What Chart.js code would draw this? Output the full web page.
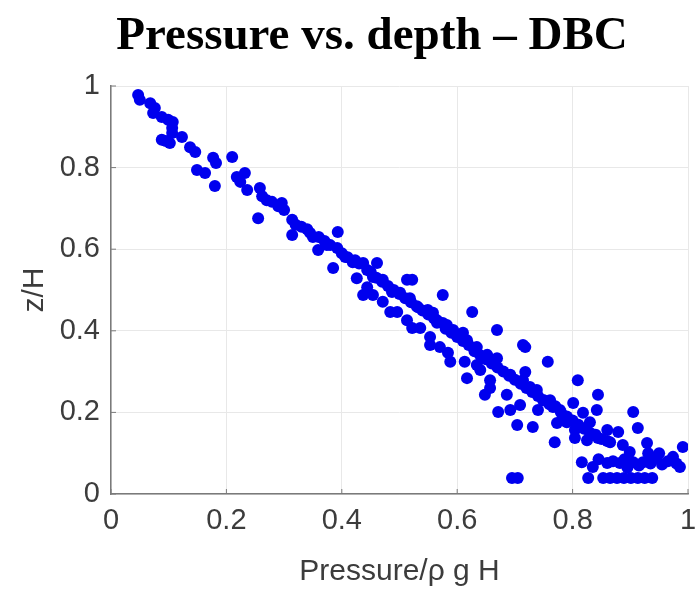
<!DOCTYPE html>
<html><head><meta charset="utf-8">
<script src="https://cdn.jsdelivr.net/npm/chart.js@4/dist/chart.umd.min.js"></script>
<style>
html,body{margin:0;padding:0;background:#fff;overflow:hidden;}
#wrap{position:relative;width:697px;height:596px;}
#title{position:absolute;left:47px;top:7px;width:650px;text-align:center;font:bold 47px/52px 'Liberation Serif','Times New Roman',serif;color:#000;white-space:nowrap;}
canvas{position:absolute;left:0;top:0;}
</style></head><body>
<div id="wrap"><canvas id="c" width="697" height="596"></canvas><div id="title">Pressure vs. depth – DBC</div></div>
<script>
// Pressure / (rho g H)
const pressure = [
0.047,0.050,0.068,0.073,0.076,0.088,0.099,0.107,0.106,0.106,0.088,0.102,0.095,0.123,0.137,0.146,0.177,0.182,0.210,0.149,0.163,0.180,0.218,0.232,0.224,0.236,0.258,0.262,0.255,0.279,0.296,0.300,0.314,0.314,0.340,0.350,0.393,0.359,0.374,0.392,0.406,0.385,0.423,0.426,0.444,0.454,
0.270,0.290,0.320,0.330,0.345,
0.419,0.437,0.461,0.471,0.444,0.437,0.454,0.471,0.484,0.496,0.487,0.501,0.513,0.522,0.518,0.532,0.549,0.513,0.522,0.536,0.575,0.565,0.582,0.593,0.553,0.553,0.570,0.584,0.626,0.617,0.634,0.613,0.634,
0.558,0.575,0.669,0.610,0.652,0.669,0.588,0.640,0.617,0.657,0.657,0.648,0.686,0.692,0.718,0.718,0.714,0.726,0.738,0.757,0.749,0.766,0.709,0.692,0.671,0.740,0.704,0.731,0.782,0.714,
0.809,0.844,0.761,0.778,0.801,0.818,0.842,0.905,0.773,0.790,0.804,0.830,0.844,0.860,0.879,0.913,0.769,0.804,0.825,0.865,0.887,0.899,0.929,0.931,0.816,0.835,0.860,0.882,0.905,0.922,0.946,0.974,0.986,0.991,
0.827,0.853,0.865,0.877,0.889,0.901,0.913,0.925,0.938,0.695,0.705,
0.845,0.870,0.890,0.915,0.935,0.955,0.965,0.980,0.895,0.950,
0.360,0.370,0.380,0.400,0.410,0.430,0.450,0.460,0.470,0.480,0.490,0.500,0.510,0.520,0.530,0.540,0.550,0.560,0.565,0.580,0.590,0.600,0.610,0.620,0.630,0.640,0.650,0.660,0.670,0.680,0.690,0.700,0.710,0.720,0.730,0.740,0.750,0.760,0.770,0.780,0.790,0.800,0.810,0.820,0.830,0.840,0.850,0.860
];
// z / H
const depth = [
0.978,0.966,0.958,0.934,0.946,0.924,0.917,0.912,0.897,0.885,0.868,0.860,0.865,0.875,0.850,0.838,0.824,0.811,0.826,0.794,0.787,0.755,0.777,0.787,0.765,0.745,0.750,0.730,0.676,0.716,0.713,0.696,0.672,0.635,0.649,0.630,0.642,0.598,0.610,0.603,0.581,0.554,0.573,0.529,0.549,0.532,
0.720,0.705,0.660,0.655,0.640,
0.568,0.566,0.566,0.525,0.507,0.488,0.488,0.471,0.446,0.446,0.495,0.493,0.525,0.525,0.480,0.458,0.451,0.426,0.407,0.407,0.488,0.426,0.414,0.402,0.385,0.365,0.360,0.346,0.446,0.377,0.360,0.324,0.316,
0.444,0.419,0.402,0.395,0.341,0.333,0.324,0.304,0.284,0.279,0.260,0.243,0.243,0.292,0.360,0.299,0.279,0.262,0.255,0.324,0.230,0.213,0.218,0.206,0.201,0.206,0.169,0.164,0.181,0.365,
0.279,0.243,0.230,0.206,0.223,0.199,0.206,0.201,0.174,0.176,0.157,0.176,0.137,0.157,0.152,0.162,0.127,0.137,0.132,0.127,0.120,0.103,0.125,0.100,0.078,0.066,0.076,0.076,0.078,0.078,0.088,0.091,0.066,0.115,
0.039,0.039,0.039,0.039,0.039,0.039,0.039,0.039,0.039,0.039,0.039,
0.085,0.080,0.085,0.070,0.075,0.072,0.080,0.075,0.065,0.100,
0.630,0.620,0.610,0.590,0.580,0.565,0.545,0.530,0.520,0.510,0.500,0.490,0.480,0.470,0.460,0.450,0.440,0.430,0.420,0.405,0.395,0.385,0.375,0.365,0.350,0.340,0.330,0.320,0.310,0.300,0.290,0.280,0.270,0.260,0.250,0.240,0.230,0.220,0.215,0.200,0.190,0.180,0.170,0.160,0.150,0.145,0.135,0.130
];
const tickValues = [0, 0.2, 0.4, 0.6, 0.8, 1];
const tickLabels = ['0', '0.2', '0.4', '0.6', '0.8', '1'];

const points = pressure.map((p, i) => ({x: p, y: depth[i]}));

const axisColor = '#7a7a7a';
const textColor = '#3c3c3c';
const fmt = v => { const i = tickValues.findIndex(t => Math.abs(t - v) < 1e-9); return i >= 0 ? tickLabels[i] : ''; };

const innerTicks = {
  id: 'innerTicks',
  beforeDatasetsDraw(chart) {
    const ctx = chart.ctx, xs = chart.scales.x, ys = chart.scales.y;
    ctx.save();
    ctx.strokeStyle = axisColor;
    ctx.lineWidth = 1;
    tickValues.forEach(v => {
      const px = xs.getPixelForValue(v);
      ctx.beginPath(); ctx.moveTo(px, ys.bottom); ctx.lineTo(px, ys.bottom - 5); ctx.stroke();
      const py = ys.getPixelForValue(v);
      ctx.beginPath(); ctx.moveTo(xs.left, py); ctx.lineTo(xs.left + 5, py); ctx.stroke();
    });
    ctx.restore();
  }
};

new Chart(document.getElementById('c'), {
  type: 'scatter',
  data: {
    datasets: [{
      data: points,
      backgroundColor: '#0000ee',
      borderColor: '#0000ee',
      borderWidth: 0,
      pointRadius: 6,
      pointHoverRadius: 6
    }]
  },
  options: {
    responsive: false,
    animation: false,
    devicePixelRatio: 1,
    layout: { padding: { top: 86, right: 0, left: 0, bottom: 0 } },
    plugins: { legend: { display: false }, title: { display: false }, tooltip: { enabled: false } },
    scales: {
      x: {
        type: 'linear', min: 0, max: 1,
        afterBuildTicks: s => { s.ticks = tickValues.map(v => ({value: v})); },
        afterFit: s => { s.height = 102; s.paddingRight = 9; },
        ticks: { color: textColor, padding: 10, maxRotation: 0, callback: fmt, font: { family: "'Liberation Sans', Arial, sans-serif", size: 29 } },
        grid: { color: '#e8e8e8', drawTicks: false, lineWidth: 1 },
        border: { display: true, color: axisColor, width: 1.5 },
        title: { display: true, text: 'Pressure/ρ g H', color: textColor, padding: { top: 0, bottom: 6 }, font: { family: "'Liberation Sans', Arial, sans-serif", size: 30 } }
      },
      y: {
        type: 'linear', min: 0, max: 1,
        afterBuildTicks: s => { s.ticks = tickValues.map(v => ({value: v})); },
        afterFit: s => { s.width = 111; },
        ticks: { color: textColor, padding: 11, callback: fmt, font: { family: "'Liberation Sans', Arial, sans-serif", size: 29 } },
        grid: { color: '#e8e8e8', drawTicks: false, lineWidth: 1 },
        border: { display: true, color: axisColor, width: 1.5 },
        title: { display: true, text: 'z/H', color: textColor, padding: { top: 17, bottom: 0 }, font: { family: "'Liberation Sans', Arial, sans-serif", size: 30 } }
      }
    }
  },
  plugins: [innerTicks]
});
</script>
</body></html>
